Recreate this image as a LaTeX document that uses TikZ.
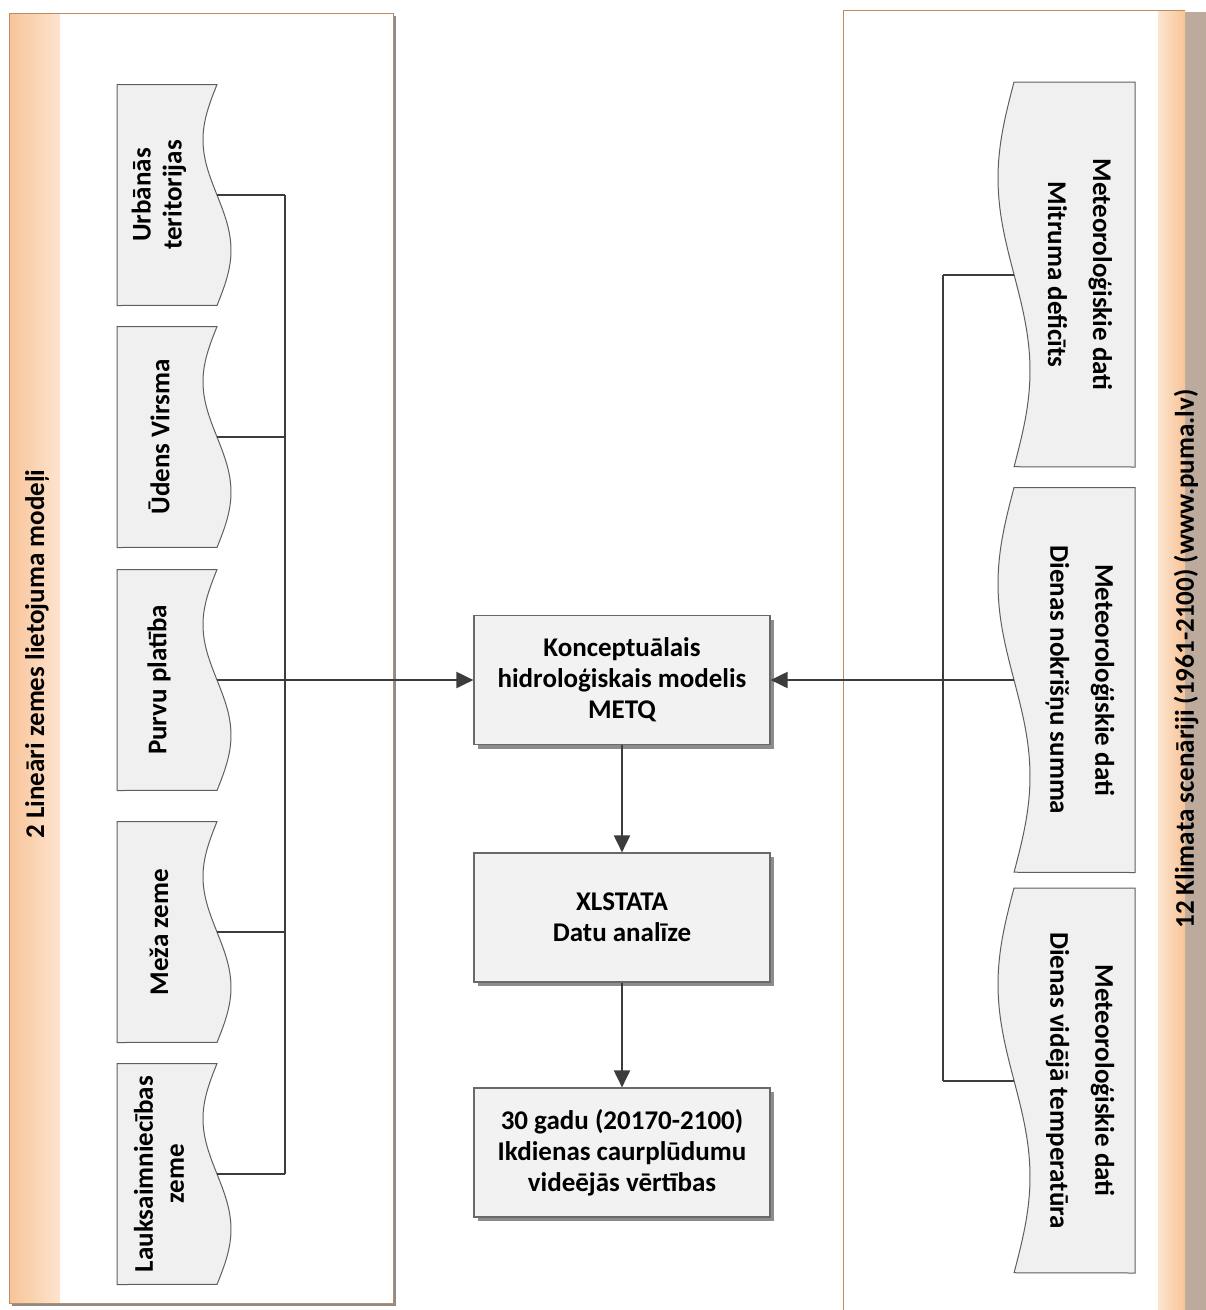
\documentclass[tikz,border=0pt]{standalone}
\usepackage{fontspec}
\setmainfont{Carlito}
\usetikzlibrary{arrows.meta,shadows}
\definecolor{peachD}{RGB}{248,196,152}
\definecolor{peachL}{RGB}{253,228,206}
\definecolor{tanC}{RGB}{188,170,156}
\definecolor{contB}{RGB}{190,140,100}
\definecolor{docF}{RGB}{240,240,240}
\definecolor{docB}{RGB}{95,95,95}
\definecolor{boxF}{RGB}{242,242,242}
\definecolor{boxB}{RGB}{105,105,105}
\definecolor{shadowC}{RGB}{140,140,140}
\definecolor{lineC}{RGB}{60,60,60}
\newcommand\leftdoc[3]{%
  \path[docshape] plot[domain=0:1,samples=60] ({217-14*sin(360*\x)},{#2-110.5+221*\x}) -- (117,#2+110.5) -- (117,#2-110.5) -- cycle;
  \node[doctext,rotate=90] (#1) at (159,#2) {#3};
  \coordinate (#1w) at (217,#2);
}
\newcommand\rightdoc[3]{%
  \path[docshape] plot[domain=0:1,samples=60] ({1014-16*sin(360*\x)},{#2-192.5+385*\x}) -- (1135,#2+192.5) -- (1135,#2-192.5) -- cycle;
  \node[doctext,rotate=-90] (#1) at (1080,#2) {#3};
  \coordinate (#1w) at (1014,#2);
}
\begin{document}
\begin{tikzpicture}[x=1pt,y=-1pt,
  conn/.style={draw=lineC, line width=2pt},
  arr/.style={conn, -{Triangle[length=17pt,width=16pt]}},
  docshape/.style={draw=docB, line width=1pt, fill=docF},
  doctext/.style={align=center, inner sep=0pt, font=\bfseries\fontsize{27}{31}\selectfont},
  lbltext/.style={inner sep=0pt, font=\bfseries\fontsize{27}{31}\selectfont},
  mainbox/.style={draw=boxB, line width=1.2pt, fill=boxF, minimum width=296pt, minimum height=129pt,
    align=center, inner sep=0pt, font=\bfseries\fontsize{27}{31}\selectfont,
    drop shadow={shadow xshift=4pt, shadow yshift=-4pt, fill=shadowC, opacity=1}}
]
\useasboundingbox (0,0) rectangle (1206,1310);
\fill[white] (0,0) rectangle (1206,1310);
% left container
\fill[shadowC] (12,16) rectangle (396,1306);
\fill[white] (9,13) rectangle (393,1303);
\shade[left color=peachD, right color=peachL] (9,13) rectangle (60,1303);
\draw[contB, line width=1pt] (9,13) rectangle (393,1303);
% right container
\fill[tanC] (1185,12) rectangle (1206,1312);
\fill[white] (843,10) rectangle (1185,1312);
\shade[left color=peachL, right color=peachD] (1158,10) rectangle (1185,1312);
\draw[contB, line width=1pt] (843,1312) -- (843,10) -- (1185,10);
% labels
\node[lbltext, rotate=90] (lblL) at (37,654) {2 Lineāri zemes lietojuma modeļi};
\node[lbltext, rotate=90] (lblR) at (1186,659) {12 Klimata scenāriji (1961-2100) (www.puma.lv)};
% left documents
\leftdoc{d1}{195}{Urbānās\\teritorijas}
\leftdoc{d2}{437}{Ūdens Virsma}
\leftdoc{d3}{680}{Purvu platība}
\leftdoc{d4}{932}{Meža zeme}
\leftdoc{d5}{1174}{Lauksaimniecības\\zeme}
% right documents
\rightdoc{r1}{274.5}{Meteoroloģiskie dati\\[14pt]Mitruma deficīts}
\rightdoc{r2}{680}{Meteoroloģiskie dati\\[14pt]Dienas nokrišņu summa}
\rightdoc{r3}{1080.5}{Meteoroloģiskie dati\\[14pt]Dienas vidējā temperatūra}
% central boxes
\node[mainbox] (m1) at (622,680) {Konceptuālais\\hidroloģiskais modelis\\METQ};
\node[mainbox] (m2) at (622,917.5) {XLSTATA\\Datu analīze};
\node[mainbox] (m3) at (622,1152.5) {30 gadu (20170-2100)\\Ikdienas caurplūdumu\\videējās vērtības};
% left bus
\coordinate (bl1) at (285,195);
\coordinate (bl2) at (285,437);
\coordinate (bl3) at (285,680);
\coordinate (bl4) at (285,932);
\coordinate (bl5) at (285,1174);
\draw[conn] (d1w) -- (bl1);
\draw[conn] (d2w) -- (bl2);
\draw[conn] (d4w) -- (bl4);
\draw[conn] (d5w) -- (bl5);
\draw[conn] (bl1) -- (bl5);
\draw[arr] (d3w) -- (m1.west);
% right bus
\coordinate (br1) at (943,274.5);
\coordinate (br2) at (943,680);
\coordinate (br3) at (943,1080.5);
\draw[conn] (br1) -- (r1w);
\draw[conn] (br3) -- (r3w);
\draw[conn] (br1) -- (br3);
\draw[arr] (r2w) -- (m1.east);
% vertical flow
\draw[arr] (m1.south) -- (m2.north);
\draw[arr] (m2.south) -- (m3.north);
\end{tikzpicture}
\end{document}
